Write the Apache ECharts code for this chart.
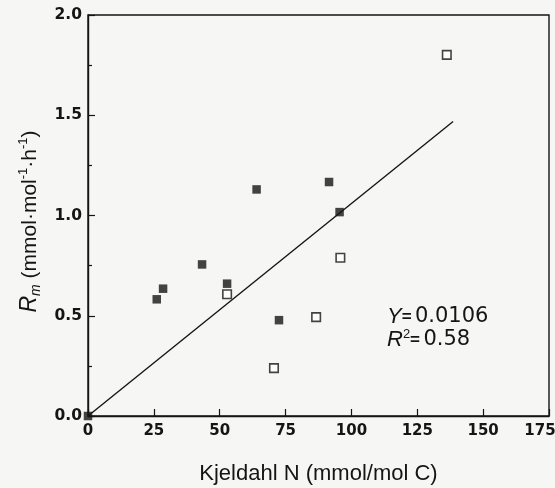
<!DOCTYPE html>
<html>
<head>
<meta charset="utf-8">
<script src="https://cdn.jsdelivr.net/npm/echarts@6/dist/echarts.min.js"></script>
<style>
  html, body { margin: 0; padding: 0; background: #f6f6f4; }
  #chart { width: 555px; height: 488px; }
</style>
</head>
<body>
<div id="chart"></div>
<script>
// Kjeldahl nitrogen vs. maximal respiration rate
const nAxisTicks = [0, 25, 50, 75, 100, 125, 150, 175];
const rAxisTicks = [0.0, 0.5, 1.0, 1.5, 2.0];

// filled squares
const filledN = [0, 26.1, 28.5, 43.3, 52.8, 64.0, 72.5, 91.5, 95.5];
const filledR = [0, 0.582, 0.635, 0.756, 0.660, 1.130, 0.478, 1.167, 1.017];

// open squares
const openN = [52.8, 70.6, 86.6, 95.8, 136.2];
const openR = [0.607, 0.239, 0.493, 0.789, 1.801];

// regression through the origin
const fitSlope = 0.0106;
const fitR2 = 0.58;
const fitRangeN = [0, 138.6];

const ink = '#151515';
const paper = '#f6f6f4';
const numFont = 'DejaVu Sans';
const textFont = 'Liberation Sans';

const pairs = (xs, ys) => xs.map((x, i) => [x, ys[i]]);
const fitLine = fitRangeN.map(x => [x, fitSlope * x]);
const lastN = nAxisTicks[nAxisTicks.length - 1];

const chart = echarts.init(document.getElementById('chart'), null, { renderer: 'canvas' });

chart.setOption({
  backgroundColor: paper,
  animation: false,
  grid: {
    left: 88, right: 6, top: 15, bottom: 72,
    outerBoundsMode: 'none',
    containLabel: false,
    show: true, borderColor: ink, borderWidth: 1.4, backgroundColor: 'transparent'
  },
  xAxis: {
    type: 'value',
    min: nAxisTicks[0],
    max: lastN,
    interval: nAxisTicks[1] - nAxisTicks[0],
    name: 'Kjeldahl N (mmol/mol C)',
    nameLocation: 'middle',
    nameGap: 47,
    nameTextStyle: { fontFamily: textFont, fontSize: 22, color: ink },
    axisLine: { show: true, onZero: false, lineStyle: { color: ink, width: 1.4 } },
    axisTick: { show: true, inside: true, length: 7, lineStyle: { color: ink, width: 1.2 } },
    axisLabel: {
      fontFamily: numFont, fontWeight: 'bold', fontSize: 15, color: ink, margin: 8,
      // the last label is nudged left so it stays on the canvas
      formatter: v => (v === lastN ? '{edge|' + v + '}' : String(v)),
      rich: {
        edge: { fontFamily: numFont, fontWeight: 'bold', fontSize: 15, color: ink, padding: [0, 18, 0, 0] }
      }
    },
    splitLine: { show: false }
  },
  yAxis: {
    type: 'value',
    min: rAxisTicks[0],
    max: rAxisTicks[rAxisTicks.length - 1],
    interval: rAxisTicks[1] - rAxisTicks[0],
    name: '{it|R}{sub|m} {n|(mmol·mol}{sup|-1}{n|·h}{sup|-1}{n|)}',
    nameLocation: 'middle',
    nameGap: 45,
    nameTextStyle: {
      fontFamily: textFont, fontSize: 21, color: ink,
      padding: [0, 12, 0, 0],
      rich: {
        it: { fontFamily: textFont, fontStyle: 'italic', fontSize: 23, color: ink, lineHeight: 26, verticalAlign: 'middle' },
        n: { fontFamily: textFont, fontSize: 21, color: ink, lineHeight: 26, verticalAlign: 'middle' },
        sub: { fontFamily: textFont, fontStyle: 'italic', fontSize: 14, color: ink, lineHeight: 26, verticalAlign: 'bottom' },
        sup: { fontFamily: textFont, fontSize: 13, color: ink, lineHeight: 26, verticalAlign: 'top' }
      }
    },
    axisLine: { show: true, onZero: false, lineStyle: { color: ink, width: 1.4 } },
    axisTick: { show: true, inside: true, length: 7, lineStyle: { color: ink, width: 1.2 } },
    minorTick: { show: true, splitNumber: 2, length: 4, lineStyle: { color: ink, width: 1.2 } },
    axisLabel: {
      fontFamily: numFont, fontWeight: 'bold', fontSize: 15.5, color: ink, margin: 6,
      formatter: v => v.toFixed(1)
    },
    splitLine: { show: false },
    minorSplitLine: { show: false }
  },
  graphic: [
    {
      type: 'text', left: 387, top: 306, z: 10,
      style: {
        text: '{it|Y}{eq|=} {v|' + fitSlope.toFixed(4) + '}',
        rich: {
          it: { fontFamily: textFont, fontStyle: 'italic', fontSize: 22, fill: ink, lineHeight: 24, verticalAlign: 'middle' },
          eq: { fontFamily: textFont, fontWeight: 'bold', fontSize: 17, fill: ink, lineHeight: 24, verticalAlign: 'middle' },
          v: { fontFamily: numFont, fontSize: 21, fill: ink, lineHeight: 24, verticalAlign: 'middle' }
        }
      }
    },
    {
      type: 'text', left: 387, top: 328, z: 10,
      style: {
        text: '{it|R}{sup|2}{eq|=} {v|' + fitR2.toFixed(2) + '}',
        rich: {
          it: { fontFamily: textFont, fontStyle: 'italic', fontSize: 22, fill: ink, lineHeight: 24, verticalAlign: 'middle' },
          sup: { fontFamily: textFont, fontSize: 13, fill: ink, lineHeight: 20, verticalAlign: 'top' },
          eq: { fontFamily: textFont, fontWeight: 'bold', fontSize: 17, fill: ink, lineHeight: 24, verticalAlign: 'middle' },
          v: { fontFamily: numFont, fontSize: 21, fill: ink, lineHeight: 24, verticalAlign: 'middle' }
        }
      }
    }
  ],
  series: [
    {
      name: 'fit',
      type: 'line',
      data: fitLine,
      symbol: 'none',
      lineStyle: { color: ink, width: 1.4 },
      z: 2
    },
    {
      name: 'filled',
      type: 'scatter',
      data: pairs(filledN, filledR),
      symbol: 'rect',
      symbolSize: 8.5,
      clip: false,
      itemStyle: { color: ink },
      z: 3
    },
    {
      name: 'open',
      type: 'scatter',
      data: pairs(openN, openR),
      symbol: 'rect',
      symbolSize: 8.5,
      clip: false,
      itemStyle: { color: '#ffffff', borderColor: ink, borderWidth: 1.6 },
      z: 3
    }
  ]
});
</script>
</body>
</html>
